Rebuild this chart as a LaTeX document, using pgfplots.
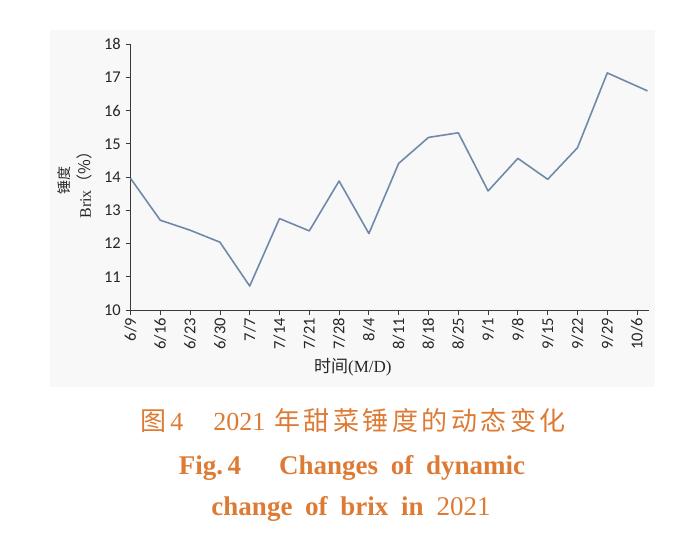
\documentclass[border=0pt]{standalone}
\usepackage{fontspec}
\setmainfont{Liberation Serif}
\newfontfamily\cjk{Noto Sans CJK SC}
\newfontfamily\tickf{Carlito}
\usepackage{pgfplots}
\pgfplotsset{compat=1.18}
\definecolor{linec}{HTML}{7189A8}
\definecolor{axc}{HTML}{3A3A3A}
\definecolor{capc}{HTML}{DD7A33}
\definecolor{panel}{HTML}{F8F8F8}
\definecolor{labc}{HTML}{262626}
\newcommand\cs{\hspace{3.5bp}}
\begin{document}
\begin{tikzpicture}
\path[use as bounding box] (0,0) rectangle (700bp,543bp);
\fill[panel] (50bp,156bp) rectangle (655bp,513bp);
\begin{axis}[
  at={(130.5bp,233bp)}, anchor=south west,
  scale only axis, width=518.5bp, height=266bp,
  xmin=0, xmax=17.4, ymin=10, ymax=18,
  axis lines=left,
  axis line style={axc, line width=0.8pt, -},
  every tick/.style={axc, line width=0.8pt},
  tick align=outside, major tick length=5bp,
  xtick={0,...,17},
  xticklabels={6/9,6/16,6/23,6/30,7/7,7/14,7/21,7/28,8/4,8/11,8/18,8/25,9/1,9/8,9/15,9/22,9/29,10/6},
  ytick={10,11,...,18},
  /pgf/number format/assume math mode=true,
  tick label style={font=\tickf\fontsize{16.5bp}{19bp}\selectfont, text=labc},
  yticklabel style={inner sep=4.5bp},
  x tick label style={rotate=90, anchor=east, inner sep=3bp},
  xlabel={{\cjk 时间}(M/D)},
  xlabel style={at={(axis description cs:0.429,-0.214)}, anchor=center, font=\fontsize{17bp}{20bp}\selectfont, text=labc},
  ylabel={{\cjk\fontsize{14bp}{16bp}\selectfont 锤度}\\[3bp]Brix{\cjk （\%）}},
  ylabel style={at={(axis description cs:-0.1065,0.485)}, anchor=center, rotate=0, align=center, font=\fontsize{16bp}{18bp}\selectfont, text=labc},
  clip=false,
]
\addplot[linec, line width=1.6pt, line join=round] coordinates {
(0,13.96)(1,12.70)(2,12.40)(3,12.04)(4,10.72)(5,12.75)(6,12.38)(7,13.88)(8,12.30)(9,14.41)(10,15.19)(11,15.33)(12,13.58)(13,14.56)(14,13.93)(15,14.88)(16,17.13)(17.35,16.59)
};
\end{axis}
\node[anchor=base, text=capc, font=\fontsize{26bp}{30bp}\selectfont] at (353bp,112bp)
  {{\cjk 图}\,4\hspace{30bp}2021\hspace{9bp}{\cjk 年\cs 甜\cs 菜\cs 锤\cs 度\cs 的\cs 动\cs 态\cs 变\cs 化}};
\node[anchor=base, text=capc, font=\fontsize{27bp}{31bp}\selectfont\bfseries] at (352bp,68bp)
  {Fig.\,4\hspace{38bp}Changes\hspace{6bp} of\hspace{6bp} dynamic};
\node[anchor=base, text=capc, font=\fontsize{27bp}{31bp}\selectfont] at (351bp,28bp)
  {\textbf{change\hspace{6bp} of\hspace{6bp} brix\hspace{6bp} in}\hspace{6bp} 2021};
\end{tikzpicture}
\end{document}
